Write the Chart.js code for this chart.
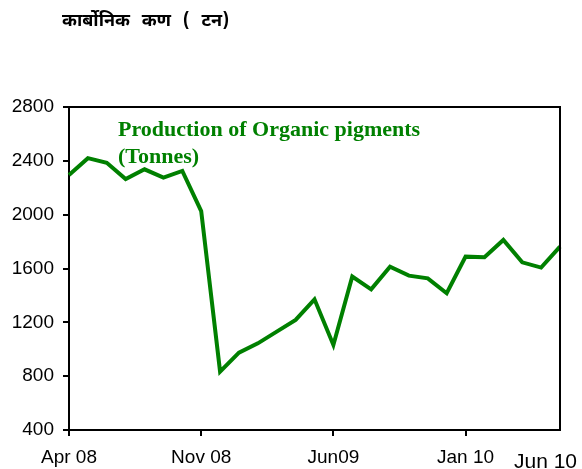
<!DOCTYPE html>
<html>
<head>
<meta charset="utf-8">
<script src="https://cdn.jsdelivr.net/npm/chart.js@4"></script>
<style>
  html, body { margin: 0; padding: 0; background: #fff; }
  #wrap { width: 582px; height: 469px; position: relative; }
</style>
</head>
<body>
<div id="wrap"><canvas id="chart" width="582" height="469"></canvas></div>
<script>
// monthly production, Apr 08 .. Jun 10
const months = ["Apr 08", "May 08", "Jun 08", "Jul 08", "Aug 08", "Sep 08", "Oct 08", "Nov 08", "Dec 08",
  "Jan 09", "Feb 09", "Mar 09", "Apr 09", "May 09", "Jun09", "Jul 09", "Aug 09", "Sep 09", "Oct 09",
  "Nov 09", "Dec 09", "Jan 10", "Feb 10", "Mar 10", "Apr 10", "May 10", "Jun 10"];
const production = [2295, 2420, 2385, 2265, 2337, 2275, 2325, 2027, 834, 975, 1044, 1131, 1218, 1371,
  1032, 1540, 1445, 1614, 1547, 1527, 1416, 1688, 1683, 1812, 1646, 1607, 1762];
const tickLabels = ["Apr 08", "Nov 08", "Jun09", "Jan 10", "Jun 10"];
const yTicks = [400, 800, 1200, 1600, 2000, 2400, 2800];
const chartTitle = "कार्बोनिक कण ( टन)";
const seriesNote = ["Production of Organic pigments", "(Tonnes)"];

const green = "#008000";

// extra text + frame drawn on top
const extras = {
  id: "extras",
  afterDraw(chart) {
    const ctx = chart.ctx;
    const a = chart.chartArea;
    ctx.save();
    // top and right frame lines
    ctx.strokeStyle = "#000";
    ctx.lineWidth = 2;
    ctx.beginPath();
    ctx.moveTo(a.left, a.top);
    ctx.lineTo(a.right, a.top);
    ctx.lineTo(a.right, a.bottom);
    ctx.stroke();

    // hindi heading
    ctx.fillStyle = "#000";
    ctx.font = "bold 18px 'Noto Sans Devanagari', 'Lohit Devanagari', 'Noto Sans', sans-serif";
    ctx.wordSpacing = "7px";
    ctx.textBaseline = "middle";
    ctx.textAlign = "left";
    ctx.fillText(chartTitle, 62, 23);
    ctx.wordSpacing = "0px";

    // series note
    ctx.fillStyle = green;
    ctx.font = "bold 22px 'Liberation Serif', 'Times New Roman', serif";
    ctx.fillText(seriesNote[0], a.left + 49, a.top + 23);
    ctx.fillText(seriesNote[1], a.left + 49, a.top + 50);

    // last x label sits inside the canvas
    ctx.fillStyle = "#000";
    ctx.font = "21px 'Liberation Sans', Arial, sans-serif";
    ctx.textAlign = "right";
    ctx.textBaseline = "alphabetic";
    ctx.fillText(tickLabels[4], chart.width - 5, a.bottom + 38);
    ctx.restore();
  }
};

const labelAt = {};
[0, 7, 14, 21].forEach(function (i, k) { labelAt[i] = tickLabels[k]; });

new Chart(document.getElementById("chart"), {
  type: "line",
  data: {
    labels: months,
    datasets: [{
      data: production,
      borderColor: green,
      borderWidth: 4,
      pointRadius: 0,
      tension: 0,
      fill: false
    }]
  },
  options: {
    responsive: false,
    animation: false,
    layout: { padding: { top: 107, right: 22, left: 0, bottom: 0 } },
    plugins: { legend: { display: false }, tooltip: { enabled: false } },
    scales: {
      x: {
        offset: false,
        afterFit(scale) { scale.height = 39; scale.paddingRight = 0; scale.paddingLeft = 0; },
        border: { color: "#000", width: 2 },
        grid: {
          drawOnChartArea: false,
          drawTicks: true,
          tickLength: 6,
          lineWidth: 2,
          color: function (c) { return labelAt[c.index] !== undefined ? "#000" : "rgba(0,0,0,0)"; }
        },
        ticks: {
          autoSkip: false,
          maxRotation: 0,
          padding: 10,
          color: "#000",
          font: { family: "'Liberation Sans', Arial, sans-serif", size: 19 },
          callback: function (v, i) { return labelAt[i] !== undefined ? labelAt[i] : ""; }
        }
      },
      y: {
        min: 400,
        max: 2800,
        afterFit(scale) { scale.width = 69; },
        afterBuildTicks(scale) { scale.ticks = yTicks.map(function (v) { return { value: v }; }); },
        border: { color: "#000", width: 2 },
        grid: { drawOnChartArea: false, drawTicks: true, tickLength: 6, lineWidth: 2, color: "#000" },
        ticks: {
          padding: 9,
          color: "#000",
          font: { family: "'Liberation Sans', Arial, sans-serif", size: 19 },
          callback: function (v) { return String(v); }
        }
      }
    }
  },
  plugins: [extras]
});
</script>
</body>
</html>
